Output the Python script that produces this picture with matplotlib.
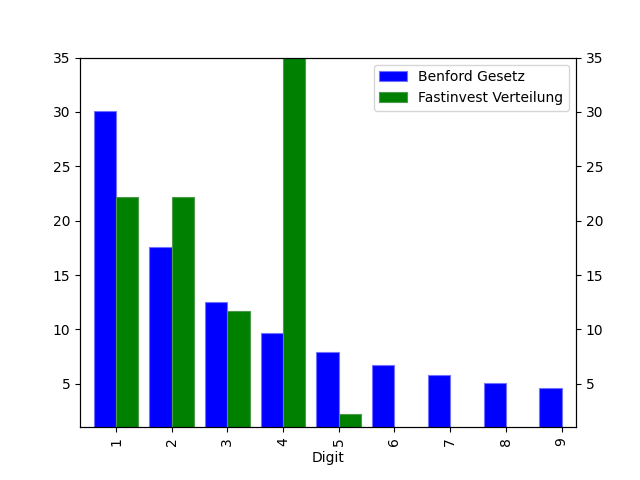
import matplotlib
matplotlib.use("Agg")
import matplotlib.pyplot as plt
import numpy as np

digits = [1, 2, 3, 4, 5, 6, 7, 8, 9]
benford = [30.1, 17.6, 12.5, 9.7, 7.9, 6.7, 5.8, 5.1, 4.6]
fastinvest = [22.2, 22.2, 11.7, 41.7, 2.2, 0, 0, 0, 0]

x = np.array(digits)
width = 0.4

fig, ax = plt.subplots(figsize=(6.4, 4.8), dpi=100)

ax.bar(x - width / 2, benford, width, color='blue', edgecolor=(0.45, 0.45, 1.0),
       linewidth=0.8, label='Benford Gesetz')
ax.bar(x + width / 2, fastinvest, width, color='green', edgecolor=(0.3, 0.6, 0.3),
       linewidth=0.8, label='Fastinvest Verteilung')

ax.set_xlim(0.354, 9.26)
ax.set_ylim(1, 35)
ax.set_xticks(x)
ax.set_xticklabels([str(d) for d in digits], rotation=90)
ax.set_xlabel('Digit')
ax.set_yticks([5, 10, 15, 20, 25, 30, 35])

ax2 = ax.twinx()
ax2.set_ylim(ax.get_ylim())
ax2.set_yticks([5, 10, 15, 20, 25, 30, 35])

ax.legend(loc='upper right')

fig.savefig('out.png')
